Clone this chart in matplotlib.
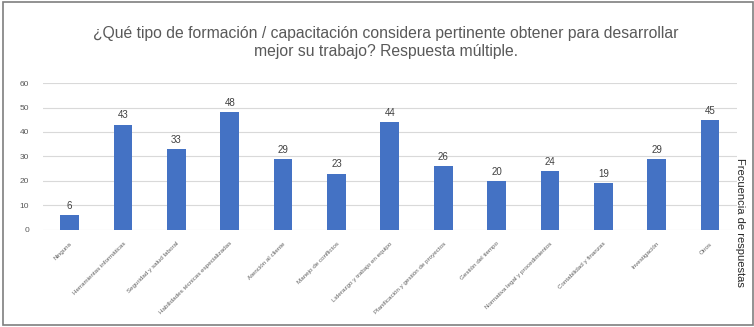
import matplotlib.pyplot as plt
from matplotlib.patches import Rectangle

plt.rcParams['font.family'] = ['Liberation Sans', 'DejaVu Sans']

categorias = [
    "Ninguna",
    "Herramientas informáticas",
    "Seguridad y salud laboral",
    "Habilidades técnicas especializadas",
    "Atención al cliente",
    "Manejo de conflictos",
    "Liderazgo y trabajo en equipo",
    "Planificación y gestión de proyectos",
    "Gestión del tiempo",
    "Normativa legal y procedimientos",
    "Contabilidad y finanzas",
    "Investigación",
    "Otros",
]
frecuencias = [6, 43, 33, 48, 29, 23, 44, 26, 20, 24, 19, 29, 45]
yticks = [0, 10, 20, 30, 40, 50, 60]

titulo = ("¿Qué tipo de formación / capacitación considera pertinente obtener para desarrollar\n"
          "mejor su trabajo? Respuesta múltiple.")

fig = plt.figure(figsize=(7.54, 3.27), dpi=100)
ax = fig.add_axes([0.057, 0.297, 0.92, 0.449])

x = range(len(categorias))
ax.bar(x, frecuencias, width=0.35, color='#4472C4', zorder=3)

for xi, v in zip(x, frecuencias):
    ax.annotate(str(v), (xi, v), xytext=(0, 3), textcoords='offset points',
                ha='center', va='bottom', fontsize=7, color='#404040')

ax.set_xlim(-0.5, len(categorias) - 0.5)
ax.set_ylim(0, 60)
ax.set_yticks(yticks)
ax.yaxis.grid(True, color='#d9d9d9', linewidth=0.8, zorder=0)
for s in ax.spines.values():
    s.set_visible(False)
ax.tick_params(axis='both', length=0, labelsize=6, colors='#595959')
ax.tick_params(axis='y', pad=10)
ax.tick_params(axis='x', pad=8)
ax.set_xticks(list(x))
ax.set_xticklabels(categorias, rotation=45, ha='right', rotation_mode='anchor',
                   fontsize=4.5, color='#606060')

ax.yaxis.set_label_position('right')
ax.set_ylabel('Frecuencia de respuestas', rotation=270, fontsize=8,
              color='#262626')
ax.yaxis.set_label_coords(1.012, 0.05)

fig.text(0.512, 0.87, titulo, ha='center', va='center', fontsize=11.3,
         color='#595959', linespacing=1.25)

fig.patches.append(Rectangle((0.004, 0.006), 0.995, 0.988, transform=fig.transFigure,
                             fill=False, edgecolor='#7f7f7f', linewidth=1.2))

fig.savefig('out.png', dpi=100)
